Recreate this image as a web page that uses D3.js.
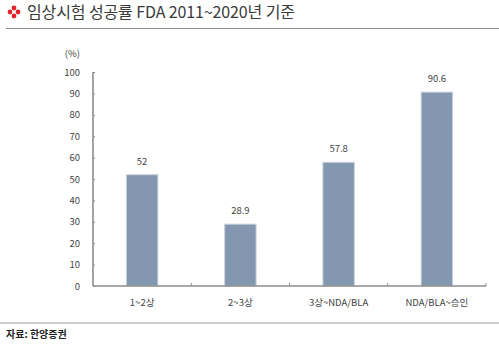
<!DOCTYPE html>
<html>
<head>
<meta charset="utf-8">
<script src="https://cdn.jsdelivr.net/npm/d3@7"></script>
<style>
  html, body { margin: 0; padding: 0; background: #fff; }
  svg { display: block; font-family: "Noto Sans CJK KR", "Noto Sans", sans-serif; }
</style>
</head>
<body>
<svg id="chart" width="499" height="349"></svg>
<script>
// Clinical trial success rate by phase, FDA 2011~2020
const categories = ["1~2상", "2~3상", "3상~NDA/BLA", "NDA/BLA~승인"];
const successRates = [52, 28.9, 57.8, 90.6];
const yTicks = [0, 10, 20, 30, 40, 50, 60, 70, 80, 90, 100];

const svg = d3.select("#chart");
const W = 499, H = 349;
const plot = { left: 93, right: 486, top: 72, bottom: 286 };

// Title with red ornament
const orn = svg.append("g").attr("transform", "translate(14,12)");
[[0, -4], [-4, 0], [4, 0], [0, 4]].forEach(([dx, dy]) => {
  orn.append("circle").attr("cx", dx).attr("cy", dy).attr("r", 2.4).attr("fill", "#e0262b");
});
svg.append("text")
  .attr("x", 27).attr("y", 17.5)
  .attr("font-size", 16).attr("fill", "#3a3a3a")
  .attr("textLength", 268).attr("lengthAdjust", "spacing")
  .text("임상시험 성공률 FDA 2011~2020년 기준");
svg.append("line")
  .attr("x1", 6).attr("x2", W).attr("y1", 28.5).attr("y2", 28.5)
  .attr("stroke", "#8a8a8a").attr("stroke-width", 1.2);

// Scales
const x = d3.scaleBand().domain(categories).range([plot.left, plot.right]).paddingInner(0).paddingOuter(0);
const y = d3.scaleLinear().domain([0, 100]).range([plot.bottom, plot.top]);
const barW = x.bandwidth() * 0.32;

// Y axis
const yAxis = svg.append("g")
  .attr("transform", `translate(${plot.left},0)`)
  .call(d3.axisRight(y).tickValues(yTicks).tickSize(2).tickFormat(""));
yAxis.select(".domain").attr("stroke", "#8c8c8c").attr("stroke-width", 1.6)
  .attr("d", `M0,${plot.top}V${plot.bottom}`);
yAxis.selectAll(".tick line").attr("stroke", "#8c8c8c");

svg.append("g").selectAll("text").data(yTicks).join("text")
  .attr("x", 80).attr("y", d => y(d) + 3.5)
  .attr("text-anchor", "end").attr("font-size", 9.5).attr("fill", "#444")
  .text(d => d);

svg.append("text")
  .attr("x", 80).attr("y", 57)
  .attr("text-anchor", "end").attr("font-size", 9.5).attr("fill", "#444")
  .text("(%)");

// Bars
svg.append("g").selectAll("rect").data(successRates).join("rect")
  .attr("x", (d, i) => x(categories[i]) + (x.bandwidth() - barW) / 2)
  .attr("y", d => y(d))
  .attr("width", barW)
  .attr("height", d => y(0) - y(d))
  .attr("fill", "#8497b0")
  .attr("stroke", "#c9d1dc").attr("stroke-width", 1);

// Value labels
svg.append("g").selectAll("text").data(successRates).join("text")
  .attr("x", (d, i) => x(categories[i]) + x.bandwidth() / 2)
  .attr("y", d => y(d) - 10)
  .attr("text-anchor", "middle").attr("font-size", 9.5).attr("fill", "#444")
  .text(d => d);

// X axis
const xAxis = svg.append("g")
  .attr("transform", `translate(0,${plot.bottom})`)
  .call(d3.axisTop(x).tickSize(0).tickFormat(""));
xAxis.select(".domain").attr("stroke", "#8c8c8c").attr("stroke-width", 1.6)
  .attr("d", `M${plot.left},0H${plot.right}`);
xAxis.selectAll(".tick").remove();
svg.append("g").selectAll("line").data(categories).join("line")
  .attr("x1", d => x(d) + x.bandwidth()).attr("x2", d => x(d) + x.bandwidth())
  .attr("y1", plot.bottom).attr("y2", plot.bottom - 3)
  .attr("stroke", "#8c8c8c");

svg.append("g").selectAll("text").data(categories).join("text")
  .attr("x", d => x(d) + x.bandwidth() / 2)
  .attr("y", 306)
  .attr("text-anchor", "middle").attr("font-size", 9.5).attr("fill", "#444")
  .text(d => d);

// Footer
svg.append("line")
  .attr("x1", 0).attr("x2", W).attr("y1", 323).attr("y2", 323)
  .attr("stroke", "#bdbdbd").attr("stroke-width", 1.5);
svg.append("text")
  .attr("x", 6).attr("y", 338)
  .attr("font-size", 10).attr("font-weight", "bold").attr("fill", "#222")
  .text("자료: 한양증권");
</script>
</body>
</html>
